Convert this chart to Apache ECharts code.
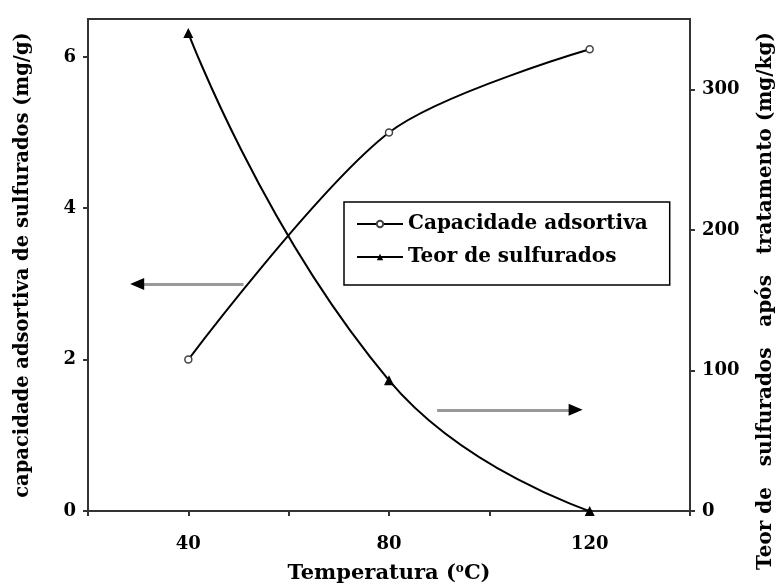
<!DOCTYPE html>
<html>
<head>
<meta charset="utf-8">
<script src="https://cdn.jsdelivr.net/npm/echarts@6/dist/echarts.min.js"></script>
<style>
  html, body { margin: 0; padding: 0; background: #fff; }
  #chart { width: 784px; height: 584px; }
</style>
</head>
<body>
<div id="chart"></div>
<script>
// Adsorption temperature study
const temperatures = [40, 80, 120];               // °C
const adsorptionCapacity = [2.0, 5.0, 6.1];       // mg/g (left axis)
const sulfurContent = [340, 93, 0];               // mg/kg (right axis)
const xTickLabels = [40, 80, 120];
const leftTickLabels = [0, 2, 4, 6];
const rightTickLabels = [0, 100, 200, 300];
const seriesNames = ['Capacidade adsortiva', 'Teor de sulfurados'];

// arrows pointing each curve to its axis (data units)
const leftArrow = [[51, 3], [29.8, 3]];
const rightArrow = [[89.6, 72], [117.2, 72]];

const FONT = '"DejaVu Serif", "Liberation Serif", serif';
const AXIS_COLOR = '#333';

const chart = echarts.init(document.getElementById('chart'), null, { renderer: 'canvas' });

const tickFont = { fontFamily: FONT, fontWeight: 'bold', fontSize: 18, color: '#000' };

chart.setOption({
  animation: false,
  backgroundColor: '#fff',
  grid: {
    left: 88, right: 94, top: 19, bottom: 73,
    containLabel: false,
    outerBoundsMode: 'none',
    show: true, borderColor: AXIS_COLOR, borderWidth: 2, backgroundColor: 'transparent'
  },
  legend: {
    orient: 'vertical',
    left: 344, top: 202,
    padding: [12, 22, 18, 12],
    itemGap: 13,
    itemWidth: 46,
    itemHeight: 8,
    borderColor: '#000',
    borderWidth: 1.5,
    backgroundColor: '#fff',
    textStyle: { fontFamily: FONT, fontWeight: 'bold', fontSize: 20, color: '#000' },
    data: seriesNames
  },
  xAxis: {
    type: 'value',
    min: 20, max: 140, interval: 20,
    name: 'Temperatura ({sup|o}C)',
    nameLocation: 'middle',
    nameGap: 52,
    nameTextStyle: {
      fontFamily: FONT, fontWeight: 'bold', fontSize: 21, color: '#000',
      rich: { sup: { fontFamily: FONT, fontWeight: 'bold', fontSize: 12, color: '#000', padding: [0, 0, 10, 0] } }
    },
    axisLine: { lineStyle: { color: AXIS_COLOR, width: 2 } },
    axisTick: { length: 5, lineStyle: { color: AXIS_COLOR, width: 2 } },
    axisLabel: Object.assign({
      margin: 24,
      formatter: v => (xTickLabels.includes(v) ? String(v) : '')
    }, tickFont),
    splitLine: { show: false }
  },
  yAxis: [
    {
      type: 'value',
      position: 'left',
      min: 0, max: 6.5, interval: 2,
      name: 'capacidade adsortiva de sulfurados (mg/g)',
      nameLocation: 'middle',
      nameRotate: 90,
      nameGap: 55,
      nameTextStyle: { fontFamily: FONT, fontWeight: 'bold', fontSize: 19.5, color: '#000' },
      axisLine: { show: true, lineStyle: { color: AXIS_COLOR, width: 2 } },
      axisTick: { show: true, length: 5, lineStyle: { color: AXIS_COLOR, width: 2 } },
      axisLabel: Object.assign({
        margin: 12,
        showMaxLabel: false,
        formatter: v => (leftTickLabels.includes(v) ? String(v) : '')
      }, tickFont),
      splitLine: { show: false }
    },
    {
      type: 'value',
      position: 'right',
      min: 0, max: 350, interval: 100,
      axisLine: { show: true, lineStyle: { color: AXIS_COLOR, width: 2 } },
      axisTick: { show: true, length: 5, lineStyle: { color: AXIS_COLOR, width: 2 } },
      axisLabel: Object.assign({
        margin: 12,
        showMaxLabel: false,
        formatter: v => (rightTickLabels.includes(v) ? String(v) : '')
      }, tickFont),
      splitLine: { show: false }
    }
  ],
  series: [
    {
      name: seriesNames[0],
      type: 'line',
      yAxisIndex: 0,
      smooth: 0.3,
      data: temperatures.map((t, i) => [t, adsorptionCapacity[i]]),
      symbol: 'circle',
      symbolSize: 7,
      lineStyle: { color: '#000', width: 2 },
      itemStyle: { color: '#fff', borderColor: '#444', borderWidth: 1.5 },
      markLine: {
        silent: true,
        symbol: 'none',
        label: { show: false },
        lineStyle: { color: '#999', width: 3, type: 'solid' },
        data: [[{ coord: leftArrow[0] }, { coord: leftArrow[1] }]]
      },
      markPoint: {
        silent: true,
        label: { show: false },
        itemStyle: { color: '#000' },
        data: [{ coord: leftArrow[1], symbol: 'triangle', symbolRotate: 90, symbolSize: [12, 14] }]
      }
    },
    {
      name: seriesNames[1],
      type: 'line',
      yAxisIndex: 1,
      smooth: 0.5,
      data: temperatures.map((t, i) => [t, sulfurContent[i]]),
      symbol: 'triangle',
      symbolSize: 10,
      lineStyle: { color: '#000', width: 2 },
      itemStyle: { color: '#000' },
      markLine: {
        silent: true,
        symbol: 'none',
        label: { show: false },
        lineStyle: { color: '#999', width: 3, type: 'solid' },
        data: [[{ coord: rightArrow[0] }, { coord: rightArrow[1] }]]
      },
      markPoint: {
        silent: true,
        label: { show: false },
        itemStyle: { color: '#000' },
        data: [{ coord: rightArrow[1], symbol: 'triangle', symbolRotate: -90, symbolSize: [12, 14] }]
      }
    }
  ],
  graphic: [
    {
      type: 'text',
      x: 766, y: 301,
      rotation: Math.PI / 2,
      style: {
        text: 'Teor de   sulfurados   após   tratamento (mg/kg)',
        font: 'bold 20px ' + FONT,
        fill: '#000',
        align: 'center',
        verticalAlign: 'middle'
      }
    }
  ]
});
</script>
</body>
</html>
